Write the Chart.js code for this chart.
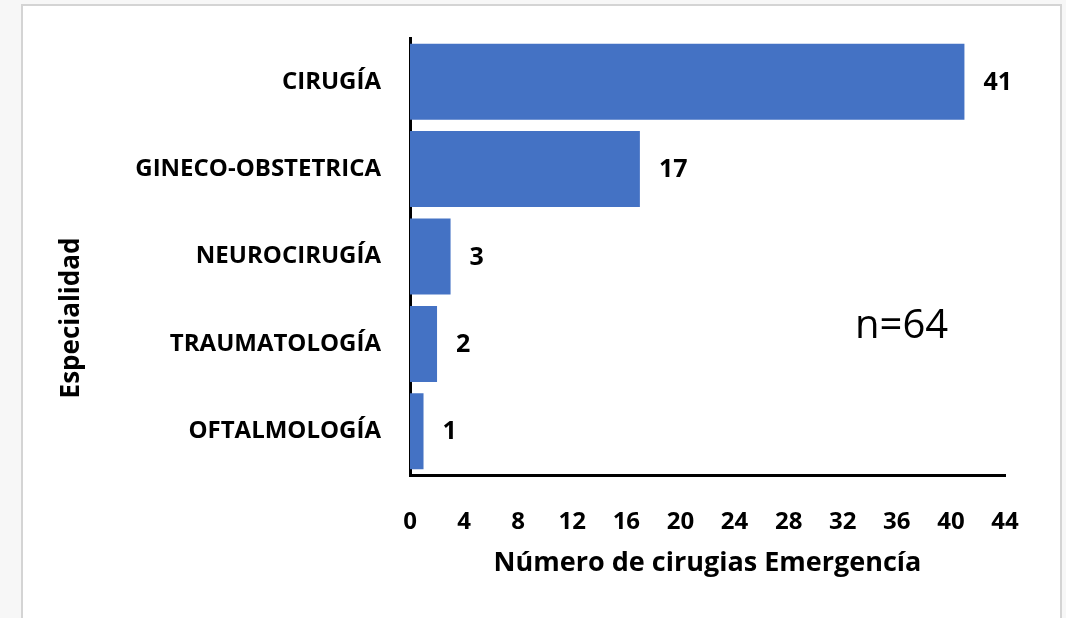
<!DOCTYPE html>
<html>
<head>
<meta charset="utf-8">
<script src="https://cdn.jsdelivr.net/npm/chart.js@4.4.1/dist/chart.umd.min.js"></script>
<style>
    body { margin: 0; background: #f7f7f7; }
    #frame {
        position: absolute; left: 21px; top: 4px; width: 1037px; height: 630px;
        background: #fff; border: 2px solid #d4d4d4;
    }
    #wrap { position: absolute; left: 0; top: 0; width: 1066px; height: 618px; }
</style>
</head>
<body>
<div id="frame"></div>
<div id="wrap"><canvas id="chart" width="1066" height="618"></canvas></div>
<script>
const categories = ['CIRUGÍA', 'GINECO-OBSTETRICA', 'NEUROCIRUGÍA', 'TRAUMATOLOGÍA', 'OFTALMOLOGÍA'];
const counts = [41, 17, 3, 2, 1];
const xTicks = [0, 4, 8, 12, 16, 20, 24, 28, 32, 36, 40, 44];

const FONT = '"Open Sans", sans-serif';

// value labels to the right of each bar + the "n=64" note + rotated y title
const extras = {
    id: 'extras',
    afterDatasetsDraw(chart) {
        const ctx = chart.ctx;
        const meta = chart.getDatasetMeta(0);
        ctx.save();
        ctx.fillStyle = '#000';
        ctx.font = 'bold 25px ' + FONT;
        ctx.textAlign = 'left';
        ctx.textBaseline = 'middle';
        meta.data.forEach((bar, i) => {
            ctx.fillText(String(counts[i]), bar.x + 19, bar.y + 1);
        });

        ctx.font = '40px ' + FONT;
        ctx.fillText('n=64', 855, 327);

        ctx.translate(72, 318);
        ctx.rotate(-Math.PI / 2);
        ctx.textAlign = 'center';
        ctx.font = 'bold 26px ' + FONT;
        ctx.fillText('Especialidad', 0, 0);
        ctx.restore();
    }
};

new Chart(document.getElementById('chart'), {
    type: 'bar',
    data: {
        labels: categories,
        datasets: [{
            data: counts,
            backgroundColor: '#4472C4',
            barPercentage: 0.87,
            categoryPercentage: 1.0
        }]
    },
    options: {
        indexAxis: 'y',
        responsive: false,
        animation: false,
        layout: { padding: { top: 38, right: 61, left: 0, bottom: 0 } },
        plugins: {
            legend: { display: false },
            tooltip: { enabled: false }
        },
        scales: {
            x: {
                min: 0,
                max: 44,
                afterBuildTicks: axis => { axis.ticks = xTicks.map(v => ({ value: v })); },
                afterFit: axis => { axis.height = 143; },
                grid: { display: false, drawTicks: false },
                border: { display: true, color: '#000', width: 3 },
                ticks: {
                    color: '#000',
                    padding: 33,
                    font: { family: FONT, size: 24, weight: 'bold' }
                },
                title: {
                    display: true,
                    text: 'Número de cirugias Emergencía',
                    color: '#000',
                    font: { family: FONT, size: 27, weight: 'bold' },
                    padding: { top: 0, bottom: 38 }
                }
            },
            y: {
                afterFit: axis => {
                    axis.width = 410;
                    axis.paddingTop = 0;
                    axis.paddingBottom = 0;
                },
                grid: { display: false, drawTicks: false },
                border: { display: true, color: '#000', width: 3 },
                ticks: {
                    color: '#000',
                    padding: 29,
                    font: { family: FONT, size: 24, weight: 'bold' }
                }
            }
        }
    },
    plugins: [extras]
});
</script>
</body>
</html>
